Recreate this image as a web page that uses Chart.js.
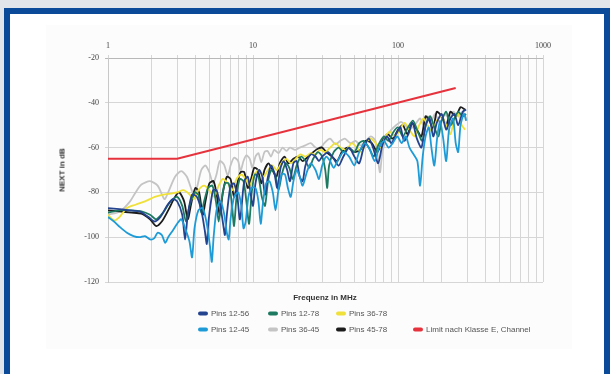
<!DOCTYPE html>
<html lang="de">
<head>
<meta charset="UTF-8">
<title>NEXT</title>
<script src="https://cdn.jsdelivr.net/npm/chart.js@4"></script>
<style>
    html, body { margin: 0; padding: 0; }
    body {
        width: 610px;
        height: 374px;
        position: relative;
        overflow: hidden;
        background: #e2e6ea;
        font-family: "Liberation Sans", Arial, sans-serif;
    }
    #frame {
        position: absolute;
        left: 4px; top: 8px;
        width: 594px; height: 380px;
        border: 6px solid #0b4a98;
        background: #fff;
    }
    #panel {
        position: absolute;
        left: 46px; top: 25px;
        width: 526px; height: 324px;
        background: #fcfcfc;
    }
    #chart { position: absolute; left: 0; top: 0; }
    .axisTitle {
        position: absolute;
        font-size: 8px;
        font-weight: bold;
        color: #333;
        white-space: nowrap;
    }
    #xTitle { left: 325px; top: 297px; transform: translate(-50%, -50%); }
    #yTitle { left: 62px; top: 170px; transform: translate(-50%, -50%) rotate(-90deg); }
    .legendItem {
        position: absolute;
        font-size: 8px;
        color: #555;
        white-space: nowrap;
        transform: translateY(-50%);
    }
    .legendItem span {
        display: inline-block;
        width: 10px; height: 4px;
        border-radius: 2px;
        margin-right: 3px;
        vertical-align: middle;
    }
</style>
</head>
<body>
<div id="frame"></div>
<div id="panel"></div>
<canvas id="chart" width="610" height="374"></canvas>
<div class="axisTitle" id="xTitle">Frequenz in MHz</div>
<div class="axisTitle" id="yTitle">NEXT in dB</div>
<div id="legend"></div>

<script>
// frequency axis (MHz, log) and NEXT axis (dB)
const xTickLabels = [1, 10, 100, 1000];
const yTickLabels = [-20, -40, -60, -80, -100, -120];

const seriesNames = ['Pins 12-56', 'Pins 12-78', 'Pins 36-78', 'Pins 12-45', 'Pins 36-45', 'Pins 45-78', 'Limit nach Klasse E, Channel'];
const seriesColors = ['#24438f', '#1d7a60', '#f0e03a', '#1e9bd7', '#c4c4c4', '#1c1c1c', '#e5323c'];

// [MHz, dB]
const pins1256 = [[1,-87],[1.2,-87.5],[1.4,-88],[1.65,-88.5],[1.9,-91],[2.1,-93],[2.3,-91],[2.55,-86],[2.8,-83],[3,-84],[3.25,-90],[3.4,-101],[3.55,-90],[3.8,-81],[4.1,-82],[4.4,-88],[4.65,-97],[4.8,-103],[4.95,-92],[5.3,-79],[5.6,-79],[5.95,-86],[6.25,-95],[6.4,-99],[6.6,-90],[7,-77],[7.4,-76],[7.8,-82],[8.1,-92],[8.3,-88],[8.7,-75],[9.2,-73],[9.6,-80],[10,-86],[10.4,-76],[11,-70],[11.6,-73],[12.1,-81],[12.6,-74],[13.3,-68],[14,-71],[14.7,-78],[15.5,-69],[16.3,-66],[17.2,-70],[18,-75],[19,-67],[20,-66],[21,-73],[22,-75],[23,-68],[25,-63],[27,-64],[28.5,-66],[30,-64],[33,-62],[36,-65],[39,-68],[42,-64],[46,-60],[50,-64],[54,-67],[58,-60],[63,-56],[68,-61],[73,-67],[78,-59],[84,-55],[90,-58],[97,-54],[104,-51],[110,-57],[118,-54],[126,-49],[135,-56],[145,-60],[155,-50],[165,-47],[175,-55],[185,-49],[200,-45],[215,-52],[230,-47],[245,-45],[260,-50],[280,-44],[295,-43]];
const pins1278 = [[1,-89],[1.2,-88],[1.45,-88],[1.7,-88.5],[1.95,-90],[2.15,-92],[2.4,-89],[2.7,-84],[3,-82],[3.25,-86],[3.45,-93],[3.65,-86],[3.95,-80],[4.2,-81],[4.4,-89],[4.6,-84],[4.9,-78],[5.25,-77],[5.55,-84],[5.8,-93],[6.05,-84],[6.4,-76],[6.8,-76],[7.15,-85],[7.4,-95],[7.7,-82],[8.1,-74],[8.6,-75],[9,-84],[9.4,-94],[9.8,-80],[10.3,-72],[10.9,-73],[11.5,-82],[12.1,-86],[12.7,-75],[13.4,-70],[14.2,-72],[15,-79],[15.8,-72],[16.8,-67],[17.8,-69],[18.8,-74],[20,-68],[21.5,-64],[23,-66],[24.5,-69],[26,-65],[28,-62],[30,-64],[31.5,-70],[32.5,-78],[33.5,-68],[36,-62],[39,-60],[42,-62],[46,-60],[50,-62],[54,-58],[58,-57],[63,-60],[68,-64],[73,-59],[80,-55],[86,-57],[93,-53],[100,-51],[108,-55],[117,-51],[127,-48],[137,-53],[147,-57],[157,-49],[167,-46],[178,-51],[190,-55],[200,-48],[215,-44],[230,-50],[245,-47],[260,-44],[280,-46],[295,-45]];
const pins3678 = [[1,-90],[1.1,-92.5],[1.2,-91],[1.35,-87],[1.55,-85.5],[1.8,-84],[2.1,-82],[2.4,-81],[2.7,-80.5],[3,-80],[3.3,-79],[3.6,-80.5],[3.9,-83],[4.2,-79],[4.6,-77],[5,-79],[5.4,-82],[5.8,-77],[6.2,-74],[6.7,-76],[7.2,-79],[7.7,-74],[8.3,-72],[8.9,-74],[9.5,-77],[10.2,-72],[11,-70],[11.8,-73],[12.7,-70],[13.6,-68],[14.6,-70],[15.7,-67],[17,-65],[18.3,-67],[19.7,-65],[21.2,-63],[23,-64],[25,-62.5],[27,-63],[29,-61],[31.5,-62],[34,-60],[37,-58],[40,-60],[44,-61],[48,-58],[52,-60],[56,-62],[60,-58],[65,-56],[70,-58],[76,-60],[82,-55],[88,-53],[95,-55],[103,-52],[111,-49],[120,-52],[130,-55],[140,-50],[150,-47],[160,-50],[172,-53],[185,-48],[200,-46],[215,-50],[230,-54],[245,-47],[260,-45],[275,-50],[290,-52]];
const pins1245 = [[1,-91],[1.1,-93],[1.21,-95.5],[1.35,-98],[1.5,-99.5],[1.65,-100],[1.8,-99.5],[1.95,-101],[2.08,-100.5],[2.2,-98],[2.35,-99],[2.48,-102.5],[2.6,-100],[2.8,-97],[3,-94],[3.2,-92],[3.45,-97],[3.65,-102],[3.8,-109],[3.95,-96],[4.2,-88],[4.5,-87],[4.8,-94],[5.05,-104],[5.2,-111],[5.35,-100],[5.6,-88],[5.95,-84],[6.3,-89],[6.6,-98],[6.8,-101],[7,-92],[7.4,-82],[7.9,-80],[8.3,-86],[8.6,-96],[8.9,-93],[9.3,-82],[9.8,-78],[10.4,-78],[10.9,-84],[11.3,-94],[11.7,-85],[12.3,-76],[13,-75],[13.7,-80],[14.3,-88],[14.9,-80],[15.7,-72],[16.6,-72],[17.4,-78],[18.2,-82],[19,-75],[20,-70],[21,-73],[22,-77],[23.5,-71],[25,-67],[27,-70],[28.5,-74],[30,-68],[32,-64],[34,-66],[36,-69],[39,-65],[42,-62],[46,-64],[50,-68],[54,-62],[59,-58],[64,-61],[69,-66],[74,-60],[80,-57],[86,-60],[92,-58],[99,-55],[106,-58],[113,-55],[120,-60],[128,-63],[136,-66],[142,-77],[148,-64],[155,-55],[163,-51],[170,-60],[178,-68],[186,-56],[195,-48],[205,-56],[215,-66],[225,-52],[240,-47],[250,-58],[260,-62],[270,-50],[285,-45],[295,-48]];
const pins3645 = [[1,-90],[1.21,-88.5],[1.42,-84],[1.55,-80],[1.7,-76.5],[1.95,-75],[2.2,-77],[2.45,-83],[2.6,-80],[2.9,-73],[3.2,-70.5],[3.5,-73],[3.9,-81],[4.1,-78],[4.4,-70],[4.7,-68],[5,-71],[5.3,-76],[5.6,-72],[5.9,-66],[6.3,-67.5],[6.7,-72.5],[7,-68],[7.4,-64.5],[7.9,-66],[8.2,-70.5],[8.6,-66],[9,-63.5],[9.5,-65],[9.9,-69],[10.4,-64],[10.9,-62.5],[11.4,-66.5],[12,-62],[12.6,-61.5],[13.3,-64],[14,-61],[15,-62.5],[16,-60],[17,-61.5],[18,-60],[19.5,-61],[21,-60],[23,-59],[25,-58],[27,-60],[29,-60.5],[31,-58],[34,-56],[37,-58.5],[40,-57],[43,-56],[47,-58],[51,-57],[55,-59],[60,-57],[65,-55],[70,-57],[75,-71],[78,-62],[84,-55],[90,-52],[97,-50],[105,-48.5],[112,-50],[120,-52],[130,-50],[142,-47],[150,-50],[160,-46],[170,-48],[180,-45],[195,-49],[210,-45],[225,-47],[240,-44],[260,-46],[280,-44],[300,-48]];
const pins4578 = [[1,-88],[1.2,-88.5],[1.45,-89],[1.7,-89.5],[1.95,-92],[2.15,-95],[2.35,-93],[2.6,-88],[2.9,-82],[3.1,-80],[3.35,-84],[3.55,-92],[3.75,-85],[4,-78],[4.25,-80],[4.5,-90],[4.7,-84],[5,-76],[5.35,-75],[5.65,-82],[5.9,-90],[6.2,-80],[6.6,-73],[7,-74],[7.4,-82],[7.8,-76],[8.2,-71],[8.7,-71],[9.2,-78],[9.7,-74],[10.2,-69],[10.8,-70],[11.4,-76],[12,-70],[12.8,-67],[13.6,-70],[14.5,-73],[15.3,-67],[16.5,-64],[17.5,-67],[19,-65],[20.5,-64],[22,-66],[24,-64],[26,-62],[28,-60.5],[30,-60],[32,-62],[35,-64],[38,-66],[41,-62],[45,-60],[50,-62],[55,-61],[60,-57],[66,-58],[72,-62],[78,-57],[85,-54],[92,-56],[100,-52],[108,-50],[116,-54],[125,-49],[135,-52],[145,-55],[155,-46],[165,-48],[175,-52],[185,-44],[200,-46],[215,-50],[230,-44],[250,-46],[270,-42],[290,-43]];
const limitE = [[1,-65],[3,-65],[250,-33.4]];

const seriesData = [pins1256, pins1278, pins3678, pins1245, pins3645, pins4578, limitE];
const drawOrder = [2, 3, 4, 1, 6, 5, 0];

// legend (two rows, column aligned)
const legendPos = [[198, 313], [268, 313], [336, 313], [198, 329], [268, 329], [336, 329], [413, 329]];
const legend = document.getElementById('legend');
seriesNames.forEach((name, i) => {
    const item = document.createElement('div');
    item.className = 'legendItem';
    item.style.left = legendPos[i][0] + 'px';
    item.style.top = legendPos[i][1] + 'px';
    item.innerHTML = '<span style="background:' + seriesColors[i] + '"></span>' + name;
    legend.appendChild(item);
});

const datasets = seriesData.map((d, i) => ({
    label: seriesNames[i],
    data: d.map(p => ({ x: p[0], y: p[1] })),
    borderColor: seriesColors[i],
    borderWidth: i === 6 ? 2 : 1.8,
    pointRadius: 0,
    tension: i === 6 ? 0 : 0.25,
    fill: false,
    order: drawOrder[i]
}));

const tickFont = { family: '"Liberation Serif", "DejaVu Serif", serif', size: 8 };

new Chart(document.getElementById('chart'), {
    type: 'line',
    data: { datasets: datasets },
    options: {
        responsive: false,
        animation: false,
        devicePixelRatio: 1,
        layout: { padding: { left: 56, top: 30, right: 67, bottom: 92 } },
        plugins: { legend: { display: false }, tooltip: { enabled: false } },
        scales: {
            x: {
                type: 'logarithmic',
                position: 'top',
                min: 1,
                max: 1000,
                afterFit: s => { s.height = 28; },
                grid: { color: '#d6d6d6', lineWidth: 1, tickLength: 3 },
                border: { display: false },
                ticks: {
                    autoSkip: false,
                    maxRotation: 0,
                    padding: 4,
                    color: '#444',
                    font: tickFont,
                    callback: v => xTickLabels.includes(v) ? String(v) : ''
                }
            },
            y: {
                min: -120,
                max: -20,
                afterFit: s => { s.width = 52; },
                afterBuildTicks: s => { s.ticks = yTickLabels.map(v => ({ value: v })); },
                grid: { color: ctx => ctx.tick && ctx.tick.value === -20 ? '#b8b8b8' : '#d6d6d6', lineWidth: 1, tickLength: 3 },
                border: { display: true, color: '#c8c8c8' },
                ticks: { padding: 6, color: '#444', font: tickFont }
            }
        }
    }
});
</script>
</body>
</html>
